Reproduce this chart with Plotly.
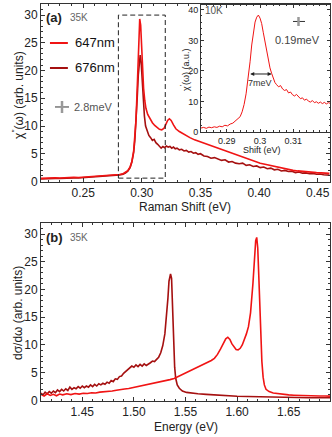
import plotly.graph_objects as go

# ---------------- data ----------------
# panel (a): Raman shift (eV) vs chi'' , 35K
shift_647 = [0.214, 0.218, 0.222, 0.226, 0.230, 0.234, 0.238, 0.242, 0.246, 0.250,
             0.254, 0.258, 0.262, 0.266, 0.270, 0.274, 0.278, 0.281, 0.284, 0.286,
             0.288, 0.290, 0.2915, 0.293, 0.294, 0.295, 0.296, 0.2968, 0.2975, 0.2982,
             0.2990, 0.2998, 0.3006, 0.3015, 0.3025, 0.3035, 0.305, 0.307, 0.309, 0.311,
             0.313, 0.315, 0.317, 0.319, 0.3205, 0.322, 0.3235, 0.325, 0.327, 0.329,
             0.332, 0.335, 0.338, 0.341, 0.345, 0.349, 0.353, 0.357, 0.361, 0.365,
             0.369, 0.373, 0.377, 0.381, 0.385, 0.389, 0.393, 0.397, 0.401, 0.405,
             0.409, 0.413, 0.417, 0.421, 0.425, 0.429, 0.433, 0.437, 0.441, 0.445,
             0.449, 0.453, 0.457, 0.460]
chi_647 = [0.55, 0.62, 0.58, 0.66, 0.63, 0.70, 0.68, 0.74, 0.72, 0.78,
           0.80, 0.84, 0.88, 0.93, 0.99, 1.06, 1.15, 1.25, 1.40, 1.60,
           1.95, 2.6, 3.6, 5.4, 7.6, 11.0, 16.5, 22.0, 27.5, 29.3,
           28.2, 24.5, 20.0, 16.8, 14.6, 13.2, 12.1, 11.2, 10.6, 10.1,
           9.7, 9.4, 9.3, 9.6, 10.3, 11.0, 11.3, 11.0, 10.2, 9.5,
           9.0, 8.6, 8.2, 7.9, 7.5, 7.2, 6.8, 6.5, 6.2, 5.9,
           5.6, 5.3, 5.0, 4.7, 4.4, 4.1, 3.8, 3.6, 3.3, 3.1,
           2.9, 2.7, 2.5, 2.3, 2.2, 2.0, 1.9, 1.8, 1.75, 1.65,
           1.6, 1.55, 1.5, 1.45]

shift_676 = [0.214, 0.218, 0.222, 0.226, 0.230, 0.234, 0.238, 0.242, 0.246, 0.250,
             0.254, 0.258, 0.262, 0.266, 0.270, 0.274, 0.278, 0.281, 0.284, 0.286,
             0.288, 0.290, 0.2915, 0.293, 0.294, 0.295, 0.296, 0.297, 0.2978, 0.2986,
             0.2994, 0.3002, 0.3012, 0.3022, 0.3032, 0.3045, 0.306, 0.3075, 0.309, 0.3105,
             0.312, 0.3135, 0.315, 0.3165, 0.318, 0.3195, 0.321, 0.3225, 0.324, 0.3255,
             0.327, 0.3285, 0.330, 0.332, 0.334, 0.336, 0.338, 0.340, 0.342, 0.344,
             0.346, 0.348, 0.350, 0.353, 0.356, 0.359, 0.362, 0.365, 0.368, 0.371,
             0.374, 0.377, 0.380, 0.383, 0.386, 0.389, 0.392, 0.395, 0.398, 0.401,
             0.404, 0.407, 0.410, 0.413, 0.416, 0.419, 0.422, 0.425, 0.428, 0.431,
             0.434, 0.437, 0.440, 0.443, 0.446, 0.449, 0.452, 0.455, 0.458, 0.460]
chi_676 = [0.45, 0.52, 0.48, 0.56, 0.53, 0.60, 0.57, 0.64, 0.62, 0.68,
           0.70, 0.75, 0.78, 0.84, 0.90, 0.98, 1.08, 1.18, 1.32, 1.50,
           1.85, 2.5, 3.5, 5.2, 7.3, 10.4, 14.8, 19.2, 22.0, 22.8,
           21.6, 18.5, 14.6, 11.8, 10.0, 9.1, 8.3, 7.9, 7.4, 7.6,
           7.0, 6.7, 6.3, 6.0, 6.3, 6.1, 6.4, 6.2, 6.3, 6.0,
           6.2, 5.9, 6.0, 5.7, 5.8, 5.5, 5.6, 5.3, 5.4, 5.1,
           5.2, 4.9, 5.0, 4.6, 4.5, 4.2, 4.3, 4.0, 3.8, 3.9,
           3.5, 3.6, 3.3, 3.2, 3.3, 2.9, 3.0, 2.7, 2.8, 2.5,
           2.6, 2.3, 2.4, 2.1, 2.2, 1.9, 2.0, 1.8, 1.85, 1.6,
           1.7, 1.5, 1.55, 1.4, 1.45, 1.3, 1.35, 1.2, 1.25, 1.15]

# inset: 10K, chi'
shift_10k = [0.2822, 0.2830, 0.2838, 0.2846, 0.2854, 0.2862, 0.2870, 0.2878, 0.2886, 0.2894,
             0.2902, 0.2910, 0.2918, 0.2926, 0.2934, 0.2940, 0.2946, 0.2952, 0.2958, 0.2964,
             0.2970, 0.2975, 0.2980, 0.2985, 0.2990, 0.2995, 0.3000, 0.3005, 0.3010, 0.3015,
             0.3020, 0.3025, 0.3030, 0.3035, 0.3040, 0.3045, 0.3050, 0.3056, 0.3062, 0.3068,
             0.3074, 0.3080, 0.3086, 0.3092, 0.3098, 0.3104, 0.3110, 0.3116, 0.3122, 0.3128,
             0.3134, 0.3140, 0.3146, 0.3152, 0.3158, 0.3164, 0.3170, 0.3176, 0.3182, 0.3188,
             0.3194, 0.3200, 0.3206, 0.3211]
chi_10k = [1.3, 1.5, 1.2, 1.6, 1.4, 1.7, 1.5, 1.9, 1.7, 2.2,
           2.0, 2.6, 2.9, 3.6, 4.3, 5.0, 6.6, 9.0, 12.5, 17.0,
           23.0, 28.5, 33.0, 36.0, 37.6, 38.3, 37.3, 35.5, 32.5, 29.5,
           26.8, 23.5, 21.0, 19.2, 17.3, 16.2, 15.5, 14.8, 15.2, 14.1,
           13.6, 13.9, 12.8, 13.1, 12.2, 11.8, 12.3, 11.4, 10.9, 11.2,
           10.4, 10.8, 10.1, 9.8, 10.3, 9.6, 9.9, 9.4, 9.8, 9.3,
           9.7, 9.2, 9.6, 9.4]

# panel (b): energy (eV) vs d sigma / d omega, 35K
energy_647 = [1.410, 1.413, 1.416, 1.419, 1.422, 1.425, 1.428, 1.431, 1.435, 1.439,
              1.443, 1.447, 1.451, 1.455, 1.459, 1.463, 1.467, 1.471, 1.475, 1.479,
              1.483, 1.487, 1.491, 1.495, 1.499, 1.503, 1.507, 1.511, 1.515, 1.519,
              1.523, 1.527, 1.531, 1.535, 1.539, 1.543, 1.547, 1.551, 1.555, 1.559,
              1.563, 1.567, 1.571, 1.575, 1.578, 1.581, 1.584, 1.587, 1.589, 1.591,
              1.593, 1.595, 1.597, 1.599, 1.601, 1.603, 1.605, 1.607, 1.609, 1.611,
              1.613, 1.6153, 1.6168, 1.6180, 1.6190, 1.6200, 1.6210, 1.6220, 1.6230, 1.6240,
              1.6252, 1.6264, 1.628, 1.631, 1.635, 1.640, 1.645, 1.650, 1.655, 1.660,
              1.665, 1.670, 1.675, 1.680, 1.685, 1.690]
sig_647 = [1.1, 0.8, 1.2, 0.9, 1.1, 0.85, 1.15, 1.0, 1.2, 1.05,
           1.25, 1.15, 1.3, 1.25, 1.4, 1.35, 1.5, 1.55, 1.65, 1.7,
           1.85, 1.9, 2.05, 2.15, 2.3, 2.45, 2.6, 2.75, 2.95, 3.1,
           3.3, 3.45, 3.6, 3.75, 3.95, 4.3, 4.7, 5.0, 5.4, 5.7,
           6.1, 6.4, 6.8, 7.2, 7.6, 8.3, 9.3, 10.5, 11.1, 11.4,
           11.0, 10.2, 9.6, 9.2, 9.1, 9.4, 10.0, 10.9, 12.0, 13.3,
           15.8, 21.0, 25.5, 28.8, 29.4, 27.5, 22.5, 17.0, 11.5, 7.0,
           4.2, 2.8, 2.0, 1.6, 1.35, 1.2, 1.1, 1.0, 0.95, 0.9,
           0.88, 0.85, 0.83, 0.8, 0.8, 0.78]

energy_676 = [1.410, 1.412, 1.414, 1.416, 1.418, 1.420, 1.422, 1.424, 1.426, 1.428,
              1.430, 1.432, 1.434, 1.436, 1.438, 1.440, 1.442, 1.444, 1.446, 1.448,
              1.450, 1.452, 1.454, 1.456, 1.458, 1.460, 1.462, 1.464, 1.466, 1.468,
              1.470, 1.472, 1.474, 1.476, 1.478, 1.480, 1.482, 1.484, 1.486, 1.488,
              1.490, 1.492, 1.494, 1.496, 1.498, 1.500, 1.502, 1.504, 1.506, 1.508,
              1.510, 1.512, 1.514, 1.516, 1.518, 1.520, 1.522, 1.524, 1.526, 1.528,
              1.530, 1.5315, 1.533, 1.534, 1.5355, 1.5365, 1.5375, 1.5385, 1.5395, 1.5405,
              1.542, 1.544, 1.547, 1.551, 1.556, 1.562, 1.570, 1.580, 1.590, 1.600,
              1.610, 1.620, 1.630, 1.640, 1.650, 1.660, 1.670, 1.680, 1.690]
sig_676 = [1.3, 1.0, 1.5, 1.2, 1.6, 1.3, 1.7, 1.4, 1.9, 1.6,
           2.0, 1.7, 2.1, 1.8, 2.4, 2.0, 2.3, 2.1, 2.5, 2.2,
           2.6, 2.3, 2.6, 2.4, 2.8, 2.5, 2.9, 2.6, 3.0, 2.8,
           3.1, 2.9, 3.3, 3.1, 3.6, 3.4, 3.9, 3.8, 4.3, 4.4,
           4.9, 5.2, 5.6, 5.8, 6.2, 6.0, 6.4, 6.1, 6.5, 6.2,
           6.6, 6.3, 6.5, 6.8, 7.1, 7.0, 7.4, 7.8, 8.6, 9.9,
           12.0, 15.0, 18.5, 21.5, 22.8, 22.0, 16.0, 10.0, 6.0, 4.0,
           2.8, 2.2, 1.7, 1.45, 1.3, 1.2, 1.1, 0.95, 0.85, 0.75,
           0.7, 0.65, 0.6, 0.58, 0.55, 0.53, 0.5, 0.5, 0.48]

# ---------------- style ----------------
RED = '#f01414'
DARK = '#a51010'
FONT = 'Liberation Sans, Arial, sans-serif'
AX = '#333333'

fig = go.Figure()

fig.add_trace(go.Scatter(x=shift_676, y=chi_676, mode='lines', line=dict(color=DARK, width=1.6),
                         xaxis='x', yaxis='y', showlegend=False))
fig.add_trace(go.Scatter(x=shift_647, y=chi_647, mode='lines', line=dict(color=RED, width=1.6),
                         xaxis='x', yaxis='y', showlegend=False))
fig.add_trace(go.Scatter(x=energy_676, y=sig_676, mode='lines', line=dict(color=DARK, width=1.6),
                         xaxis='x2', yaxis='y2', showlegend=False))
fig.add_trace(go.Scatter(x=energy_647, y=sig_647, mode='lines', line=dict(color=RED, width=1.6),
                         xaxis='x2', yaxis='y2', showlegend=False))
fig.add_trace(go.Scatter(x=shift_10k, y=chi_10k, mode='lines', line=dict(color=RED, width=1),
                         xaxis='x3', yaxis='y3', showlegend=False))


def axis(**kw):
    d = dict(showgrid=False, zeroline=False, showline=True, linecolor=AX, linewidth=1,
             mirror='allticks', ticks='inside', ticklen=4, tickcolor=AX,
             tickfont=dict(family=FONT, size=12, color='#222'),
             minor=dict(ticks='inside', ticklen=2, tickcolor=AX))
    d.update(kw)
    return d


fig.update_layout(
    width=332, height=437,
    margin=dict(l=41, r=2, t=4, b=36),
    paper_bgcolor='white', plot_bgcolor='white',
    font=dict(family=FONT, color='#222'),
    xaxis=axis(domain=[0, 1], range=[0.214, 0.4605], anchor='y',
               tickvals=[0.25, 0.30, 0.35, 0.40, 0.45], tickformat='.2f',
               minor=dict(ticks='inside', ticklen=2, tickcolor=AX, dtick=0.01)),
    yaxis=axis(domain=[0.5516, 1.0], range=[-0.1, 32], anchor='x',
               tickvals=[0, 5, 10, 15, 20, 25, 30],
               minor=dict(ticks='inside', ticklen=2, tickcolor=AX, dtick=1)),
    xaxis2=axis(domain=[0, 1], range=[1.41, 1.69], anchor='y2',
                tickvals=[1.45, 1.50, 1.55, 1.60, 1.65], tickformat='.2f',
                minor=dict(ticks='inside', ticklen=2, tickcolor=AX, dtick=0.01)),
    yaxis2=axis(domain=[0, 0.4484], range=[-0.1, 32], anchor='x2',
                tickvals=[0, 5, 10, 15, 20, 25, 30],
                minor=dict(ticks='inside', ticklen=2, tickcolor=AX, dtick=1)),
    # inset
    xaxis3=axis(domain=[0.5536, 1.0], range=[0.2822, 0.3211], anchor='y3',
                tickvals=[0.29, 0.30, 0.31], ticktext=['0.29', '0.3', '0.31'],
                ticklen=3, tickfont=dict(family=FONT, size=9, color='#222'),
                minor=dict(ticks='inside', ticklen=1.5, tickcolor=AX, dtick=0.002)),
    yaxis3=axis(domain=[0.6776, 0.9975], range=[0, 41.6], anchor='x3',
                tickvals=[0, 10, 20, 30, 40], ticklen=3,
                tickfont=dict(family=FONT, size=9, color='#222'),
                minor=dict(ticks='inside', ticklen=1.5, tickcolor=AX, dtick=2)),
)

# dashed box around the peak in (a)
fig.add_shape(type='rect', xref='x', yref='y', x0=0.28, x1=0.32, y0=0.6, y1=30,
              line=dict(color='#222', width=1, dash='5px,3px'), layer='above')

# legend drawn by hand
fig.add_shape(type='line', xref='paper', yref='paper', x0=0.031, x1=0.093, y0=0.9018, y1=0.9018,
              line=dict(color=RED, width=2))
fig.add_shape(type='line', xref='paper', yref='paper', x0=0.031, x1=0.093, y0=0.8388, y1=0.8388,
              line=dict(color=DARK, width=2))

# resolution markers
fig.add_shape(type='line', xref='paper', yref='paper', x0=0.0484, x1=0.0969, y0=0.7406, y1=0.7406,
              line=dict(color='#333', width=1))
fig.add_shape(type='line', xref='paper', yref='paper', x0=0.0727, x1=0.0727, y0=0.7254, y1=0.7557,
              line=dict(color='#999', width=2.5))
fig.add_shape(type='line', xref='paper', yref='paper', x0=0.872, x1=0.9135, y0=0.956, y1=0.956,
              line=dict(color='#333', width=1))
fig.add_shape(type='line', xref='paper', yref='paper', x0=0.891, x1=0.891, y0=0.9446, y1=0.9673,
              line=dict(color='#999', width=2.5))


def txt(x, y, s, size=12, color='#222', xanchor='left', angle=0, bold=False):
    if bold:
        s = '<b>' + s + '</b>'
    fig.add_annotation(x=x, y=y, xref='paper', yref='paper', text=s, showarrow=False,
                       xanchor=xanchor, yanchor='middle', textangle=angle,
                       font=dict(family=FONT, size=size, color=color))


txt(0.0104, 0.967, '(a)', size=13, bold=True)
txt(0.0934, 0.967, '35K', size=10, color='#666')
txt(0.0104, 0.413, '(b)', size=13, bold=True)
txt(0.0934, 0.413, '35K', size=10, color='#666')
txt(0.1107, 0.9018, '647nm', size=13, color='#111')
txt(0.1107, 0.8388, '676nm', size=13, color='#111')
txt(0.1073, 0.7406, '2.8meV', size=11, color='#555')
txt(0.5606, 0.984, '10K', size=10, color='#555')
txt(0.889, 0.9093, '0.19meV', size=11, color='#444', xanchor='center')

# axis titles
txt(0.498, 0.4887, 'Raman Shift (eV)', size=12, xanchor='center')
txt(0.5, -0.0655, 'Energy (eV)', size=12, xanchor='center')
txt(-0.0796, 0.771, "χ<sup>''</sup>(ω) (arb. units)", size=12, xanchor='center', angle=-90)
txt(-0.0796, 0.2217, 'dσ/dω (arb. units)', size=12, xanchor='center', angle=-90)
txt(0.7647, 0.632, 'Shift (eV)', size=9, xanchor='center')
txt(0.498, 0.8338, "χ<sup>'</sup>(ω) (a.u.)", size=9, xanchor='center', angle=-90)

# FWHM arrow in the inset
fig.add_annotation(x=0.3035, y=19, ax=0.2966, ay=19, xref='x3', yref='y3', axref='x3', ayref='y3',
                   text='', showarrow=True, arrowhead=2, arrowside='end+start',
                   arrowsize=0.8, arrowwidth=1, arrowcolor='#222')
fig.add_annotation(x=0.3001, y=16.2, xref='x3', yref='y3', text='7meV', showarrow=False,
                   font=dict(family=FONT, size=9, color='#333'))

# page has a default 8px body margin -> remove it so the figure sits at 0,0
fig.write_html("out.html", config={'displayModeBar': False},
               post_script="document.body.style.margin='0';document.body.style.overflow='hidden';")
